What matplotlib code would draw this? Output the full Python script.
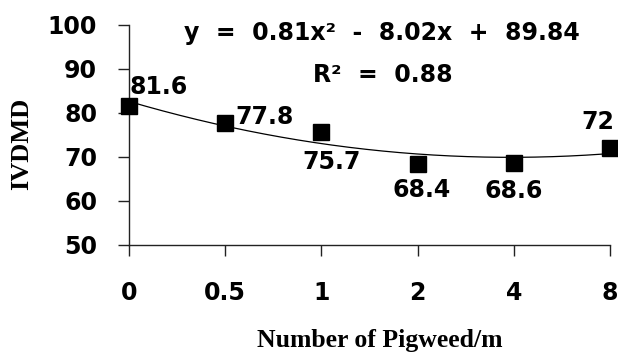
import numpy as np
import matplotlib
matplotlib.use("Agg")
import matplotlib.pyplot as plt

# data
categories = ["0", "0.5", "1", "2", "4", "8"]
ivdmd = [81.6, 77.8, 75.7, 68.4, 68.6, 72]
value_labels = ["81.6", "77.8", "75.7", "68.4", "68.6", "72"]
y_ticks = [50, 60, 70, 80, 90, 100]

sans = "DejaVu Sans"
serif = "Liberation Serif"
fs = 17

fig = plt.figure(figsize=(6.18, 3.58), dpi=100)
ax = fig.add_axes([129/618, 1-245/358, (610-129)/618, 220/358])

pos = np.arange(len(categories))

# second order trendline, fitted the way Excel does (x = 1..n)
coef = np.polyfit(pos + 1, ivdmd, 2)
xs = np.linspace(0, len(categories) - 1, 200)
ax.plot(xs, np.polyval(coef, xs + 1), color="black", lw=0.9, clip_on=False)

ax.plot(pos, ivdmd, ls="none", marker="s", ms=11, color="black", clip_on=False, zorder=3)

# value labels (offsets in points, roughly where Excel put them)
offsets = [(0.5, 14), (7, 4), (7, -22), (3, -19), (0, -20), (-9, 19)]
aligns = ["left", "left", "center", "center", "center", "center"]
for x, v, lab, off, ha in zip(pos, ivdmd, value_labels, offsets, aligns):
    ax.annotate(lab, (x, v), xytext=off, textcoords="offset points",
                ha=ha, va="center", fontsize=fs, fontweight="bold", family=sans)

fig.text(184/618, 1-33/358, "y  =  0.81x²  -  8.02x  +  89.84",
         fontsize=fs, fontweight="bold", family=sans, va="center")
fig.text(313/618, 1-75/358, "R²  =  0.88",
         fontsize=fs, fontweight="bold", family=sans, va="center")

ax.set_xlim(0, len(categories) - 1)
ax.set_ylim(50, 100)
ax.set_xticks(pos)
ax.set_xticklabels(categories)
ax.set_yticks(y_ticks)
for spine in ["top", "right"]:
    ax.spines[spine].set_visible(False)
for spine in ["left", "bottom"]:
    ax.spines[spine].set_linewidth(1)
    ax.spines[spine].set_color("#222222")
ax.tick_params(axis="both", direction="out", length=8, width=1, color="#222222")
ax.tick_params(axis="y", pad=15)
ax.tick_params(axis="x", pad=18)
for t in ax.get_xticklabels() + ax.get_yticklabels():
    t.set_fontsize(fs)
    t.set_fontweight("bold")
    t.set_family(sans)

fig.text(22/618, 1-144/358, "IVDMD", rotation=90, ha="center", va="center",
         fontsize=19, fontweight="bold", family=serif)
fig.text(380/618, 1-340/358, "Number of Pigweed/m", ha="center", va="center",
         fontsize=18.5, fontweight="bold", family=serif)

fig.savefig("out.png", dpi=100)
